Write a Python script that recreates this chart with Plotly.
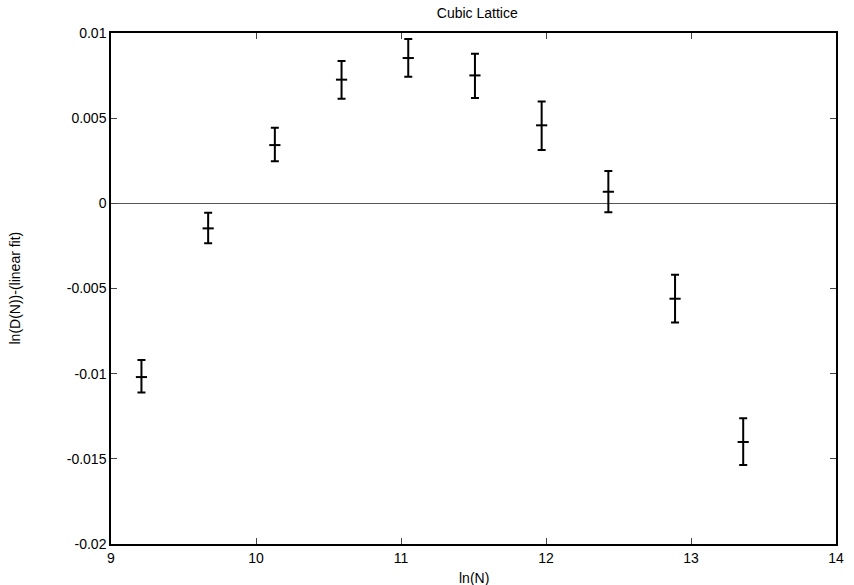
import plotly.graph_objects as go

ln_n = [9.21, 9.67, 10.13, 10.59, 11.05, 11.51, 11.97, 12.43, 12.89, 13.36]
resid = [-0.0102, -0.00147, 0.00342, 0.00726, 0.00853, 0.00751, 0.00458, 0.00068, -0.0056, -0.01401]
err_hi = [0.0010, 0.00092, 0.00102, 0.00109, 0.00112, 0.00127, 0.00140, 0.00122, 0.00141, 0.00139]
err_lo = [0.0009, 0.00088, 0.00095, 0.00112, 0.00110, 0.00133, 0.00145, 0.00121, 0.00139, 0.00135]

y_ticks = [0.01, 0.005, 0, -0.005, -0.01, -0.015, -0.02]
y_ticklabels = ["0.01", "0.005", "0", "-0.005", "-0.01", "-0.015", "-0.02"]
x_ticks = [9, 10, 11, 12, 13, 14]

font = "Liberation Sans, Arial, sans-serif"

fig = go.Figure()
fig.add_trace(go.Scatter(
    x=ln_n, y=resid, mode="markers",
    marker=dict(symbol="line-ew", size=8, line=dict(color="black", width=2)),
    error_y=dict(type="data", symmetric=False, array=err_hi, arrayminus=err_lo,
                 color="black", thickness=2, width=4),
    showlegend=False,
))

fig.update_layout(
    width=854, height=585,
    margin=dict(l=111, r=10, t=33, b=41),
    paper_bgcolor="white", plot_bgcolor="white",
    font=dict(family=font, size=14, color="black"),
    title=dict(text="Cubic Lattice", x=0.5589, xanchor="center", y=0.978, yanchor="middle",
               font=dict(size=14)),
    xaxis=dict(range=[9, 14], tickvals=x_ticks, ticks="inside", ticklen=6, tickwidth=1,
               showline=True, linecolor="black", linewidth=1.5, mirror="ticks",
               showgrid=False, zeroline=False, tickfont=dict(size=14)),
    yaxis=dict(range=[-0.02, 0.01], tickvals=y_ticks, ticktext=y_ticklabels,
               ticks="inside", ticklen=6, tickwidth=1,
               showline=True, linecolor="black", linewidth=1.5, mirror="ticks",
               showgrid=False, zeroline=True, zerolinecolor="#555555", zerolinewidth=1,
               tickfont=dict(size=14)),
    annotations=[
        dict(text="ln(N)", xref="paper", yref="paper", x=0.5, y=0, yshift=-34,
             xanchor="center", yanchor="middle", showarrow=False, font=dict(size=14)),
        dict(text="ln(D(N))-(linear fit)", xref="paper", yref="paper", x=0, y=0.5,
             xshift=-97, textangle=-90, xanchor="center", yanchor="middle",
             showarrow=False, font=dict(size=14)),
    ],
)

fig.write_html("out.html")
